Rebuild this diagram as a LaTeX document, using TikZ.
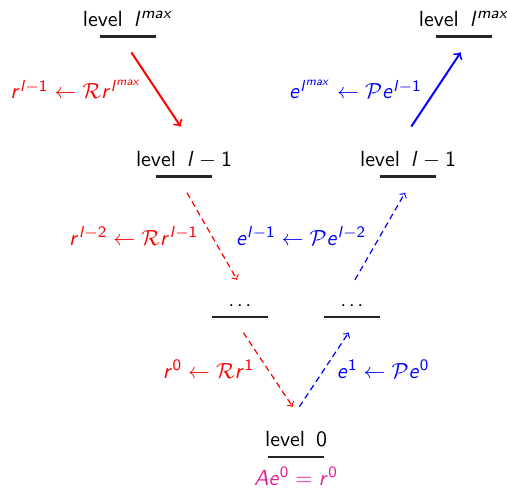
\documentclass[tikz,border=0pt,11pt]{standalone}
\usepackage{amsmath,amssymb}
\usetikzlibrary{positioning}
\definecolor{eqpink}{RGB}{230,30,150}
% sans serif math letters and digits, as in a beamer slide
\SetSymbolFont{operators}{normal}{OT1}{cmss}{m}{n}
\DeclareSymbolFont{sfslant}{OT1}{cmss}{m}{sl}
\DeclareMathSymbol{l}{\mathalpha}{sfslant}{`l}
\DeclareMathSymbol{m}{\mathalpha}{sfslant}{`m}
\DeclareMathSymbol{a}{\mathalpha}{sfslant}{`a}
\DeclareMathSymbol{x}{\mathalpha}{sfslant}{`x}
\DeclareMathSymbol{r}{\mathalpha}{sfslant}{`r}
\DeclareMathSymbol{e}{\mathalpha}{sfslant}{`e}
\DeclareMathSymbol{A}{\mathalpha}{sfslant}{`A}
\newcommand{\lvldots}{.\kern1.2pt.\kern1.2pt.}

\begin{document}
\begin{tikzpicture}[
  font=\sffamily,
  node distance=70.05pt and 28pt, on grid,
  lvl/.style={inner ysep=9.6pt, text depth=0.8pt},
  bar/.style={line width=1.4pt, black!85},
  restrict/.style={->, red, line width=1pt, shorten <=3pt, shorten >=3pt},
  restrictd/.style={restrict, line width=0.6pt, densely dashed},
  prolong/.style={->, blue, line width=1pt, shorten <=3pt, shorten >=3pt},
  prolongd/.style={prolong, line width=0.6pt, densely dashed},
  rlbl/.style={red, left=3pt},
  plbl/.style={blue, left=3pt}
  ]
  \useasboundingbox (-64pt,13.1pt) rectangle (189.5pt,-230.9pt);

  % Left leg: restriction down to the coarsest level
  \node[lvl, anchor=base] (lmaxL) at (0,0) {level\ \,$l^{max}$};
  \node[lvl, below right=of lmaxL.base, anchor=base] (l1L) {level\ \,$l-1$};
  \node[lvl, below right=of l1L.base, anchor=base] (dotsL) {\lvldots};
  \node[lvl, below right=of dotsL.base, anchor=base] (lvl0) {level\ \,$0$};

  % Right leg: prolongation back up
  \node[lvl, above right=of lvl0.base, anchor=base] (dotsR) {\lvldots};
  \node[lvl, above right=of dotsR.base, anchor=base] (l1R) {level\ \,$l-1$};
  \node[lvl, above right=of l1R.base, anchor=base] (lmaxR) {level\ \,$l^{max}$};

  % Coarse solve
  \node[eqpink, below=19.6pt of lvl0.base, anchor=base] (solve) {$Ae^0 = r^0$};

  % underlines
  \foreach \n in {lmaxL,l1L,dotsL,lvl0,dotsR,l1R,lmaxR}
    \draw[bar] ([xshift=-14pt,yshift=-5.25pt]\n.base) -- ([xshift=14pt,yshift=-5.25pt]\n.base);

  \draw[restrict] (lmaxL.south) -- (l1L.north)
    node[midway, rlbl] {$r^{l-1} \leftarrow \mathcal{R} r^{l^{max}}$};
  \draw[restrictd] (l1L.south) -- (dotsL.north)
    node[midway, rlbl] {$r^{l-2} \leftarrow \mathcal{R} r^{l-1}$};
  \draw[restrictd] (dotsL.south) -- (lvl0.north)
    node[midway, rlbl] {$r^0 \leftarrow \mathcal{R} r^1$};

  \draw[prolongd] (lvl0.north) -- (dotsR.south)
    node[midway, blue, right=2.5pt] {$e^1 \leftarrow \mathcal{P} e^0$};
  \draw[prolongd] (dotsR.north) -- (l1R.south)
    node[midway, plbl] {$e^{l-1} \leftarrow \mathcal{P} e^{l-2}$};
  \draw[prolong] (l1R.north) -- (lmaxR.south)
    node[midway, plbl] {$e^{l^{max}} \leftarrow \mathcal{P} e^{l-1}$};
\end{tikzpicture}
\end{document}
